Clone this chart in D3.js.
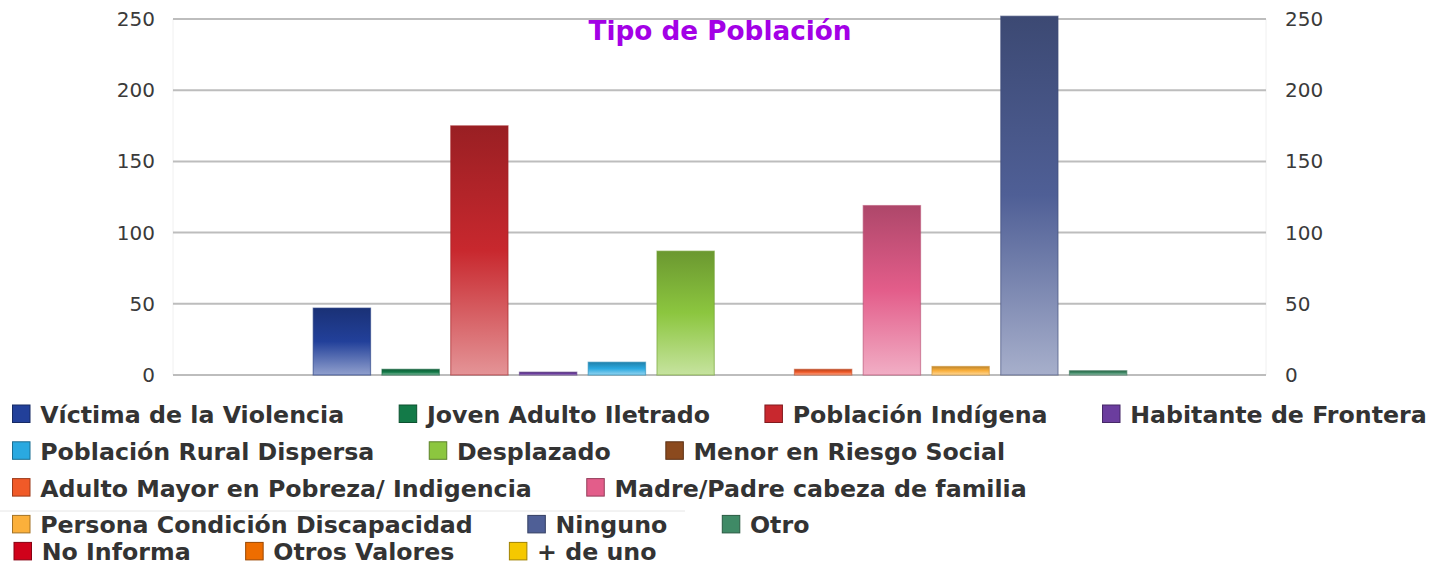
<!DOCTYPE html>
<html lang="es">
<head>
<meta charset="UTF-8">
<title>Tipo de Población</title>
<script src="https://d3js.org/d3.v7.min.js"></script>
<style>
    body { margin: 0; background: #fff; }
    .tick text { font-family: "DejaVu Sans", Verdana, sans-serif; font-size: 20px; fill: #3a3a3a; }
    .legend text { font-family: "DejaVu Sans", Verdana, sans-serif; font-weight: bold; font-size: 23.7px; fill: #333; }
    .title { font-family: "DejaVu Sans", Verdana, sans-serif; font-weight: bold; font-size: 26.3px; fill: #a300e6; }
</style>
</head>
<body>
<script>
    // data
    const series = [
        "Víctima de la Violencia", "Joven Adulto Iletrado", "Población Indígena", "Habitante de Frontera",
        "Población Rural Dispersa", "Desplazado", "Menor en Riesgo Social", "Adulto Mayor en Pobreza/ Indigencia",
        "Madre/Padre cabeza de familia", "Persona Condición Discapacidad", "Ninguno", "Otro",
        "No Informa", "Otros Valores", "+ de uno"
    ];
    const values = [47, 4, 175, 2, 9, 87, 0, 4, 119, 6, 252, 3, 0, 0, 0];
    const colors = [
        "#22409a", "#137a48", "#c8282e", "#6b3d9e", "#2aa9e0", "#8cc63f", "#8b4a1e", "#f05a28",
        "#e35d8a", "#fbb03b", "#4f5f96", "#3f8a66", "#d0021b", "#ee6d00", "#f5c800"
    ];
    const yTicks = [0, 50, 100, 150, 200, 250];

    const W = 1452, H = 565;
    const plot = { left: 173, right: 1266, top: 19, bottom: 375 };

    const svg = d3.select("body").append("svg")
        .attr("width", W)
        .attr("height", H);

    const defs = svg.append("defs");

    const y = d3.scaleLinear().domain([0, 250]).range([plot.bottom, plot.top]);
    const x = d3.scaleBand()
        .domain(series)
        .range([307.5, 307.5 + 68.75 * series.length])
        .paddingInner(0.166)
        .paddingOuter(0.083);

    // frame sides
    svg.append("line").attr("x1", plot.left).attr("x2", plot.left)
        .attr("y1", plot.top).attr("y2", plot.bottom).attr("stroke", "#f0f0f0");
    svg.append("line").attr("x1", plot.right).attr("x2", plot.right)
        .attr("y1", plot.top).attr("y2", plot.bottom).attr("stroke", "#f0f0f0");

    // grid
    svg.append("g").selectAll("line")
        .data(yTicks)
        .join("line")
        .attr("x1", plot.left).attr("x2", plot.right)
        .attr("y1", d => y(d)).attr("y2", d => y(d))
        .attr("stroke", "#bdbdbd")
        .attr("stroke-width", 2);

    // axes
    const leftAxis = svg.append("g")
        .attr("transform", `translate(${plot.left},0)`)
        .call(d3.axisLeft(y).tickValues(yTicks).tickSize(0).tickPadding(18));
    leftAxis.select(".domain").remove();

    const rightAxis = svg.append("g")
        .attr("transform", `translate(${plot.right},0)`)
        .call(d3.axisRight(y).tickValues(yTicks).tickSize(0).tickPadding(19));
    rightAxis.select(".domain").remove();

    // bar gradients
    series.forEach((s, i) => {
        const c = colors[i];
        const g = defs.append("linearGradient")
            .attr("id", "grad" + i)
            .attr("x1", 0).attr("y1", 0).attr("x2", 0).attr("y2", 1);
        g.append("stop").attr("offset", "0%").attr("stop-color", d3.color(c).darker(0.75));
        g.append("stop").attr("offset", "50%").attr("stop-color", c);
        g.append("stop").attr("offset", "100%").attr("stop-color", d3.interpolateRgb(c, "#fff")(0.5));
    });

    svg.append("g").selectAll("rect")
        .data(series.map((s, i) => ({ s, v: values[i], i })).filter(d => d.v > 0))
        .join("rect")
        .attr("x", d => x(d.s))
        .attr("y", d => y(d.v))
        .attr("width", x.bandwidth())
        .attr("height", d => y(0) - y(d.v))
        .attr("fill", d => `url(#grad${d.i})`)
        .attr("stroke", d => d3.color(colors[d.i]).darker(0.6))
        .attr("stroke-opacity", 0.55)
        .attr("stroke-width", 1.2);

    // title
    svg.append("text")
        .attr("class", "title")
        .attr("x", 720)
        .attr("y", 40)
        .attr("text-anchor", "middle")
        .text("Tipo de Población");

    // legend, flow layout
    const legend = svg.append("g").attr("class", "legend");
    const sw = 17.5, gap = 55, textOff = 27.7;

    function flow(items, startX, startY, rowH) {
        let cx = startX, cy = startY;
        items.forEach(i => {
            const t = legend.append("text").text(series[i]);
            const tw = t.node().getComputedTextLength();
            if (cx > startX && cx + textOff + tw > W - 4) {
                cx = startX;
                cy += rowH;
            }
            legend.append("rect")
                .attr("x", cx).attr("y", cy - 18)
                .attr("width", sw).attr("height", sw)
                .attr("fill", colors[i])
                .attr("stroke", d3.color(colors[i]).darker(1.2))
                .attr("stroke-width", 1);
            t.attr("x", cx + textOff).attr("y", cy);
            cx += textOff + tw + gap;
        });
        return cy;
    }

    const lastY = flow(d3.range(0, 12), 12.5, 423, 36.8);
    svg.append("line")
        .attr("x1", 0).attr("x2", 685)
        .attr("y1", 511).attr("y2", 511)
        .attr("stroke", "#e6e6e6");
    flow(d3.range(12, 15), 14, lastY + 27, 27);
</script>
</body>
</html>
